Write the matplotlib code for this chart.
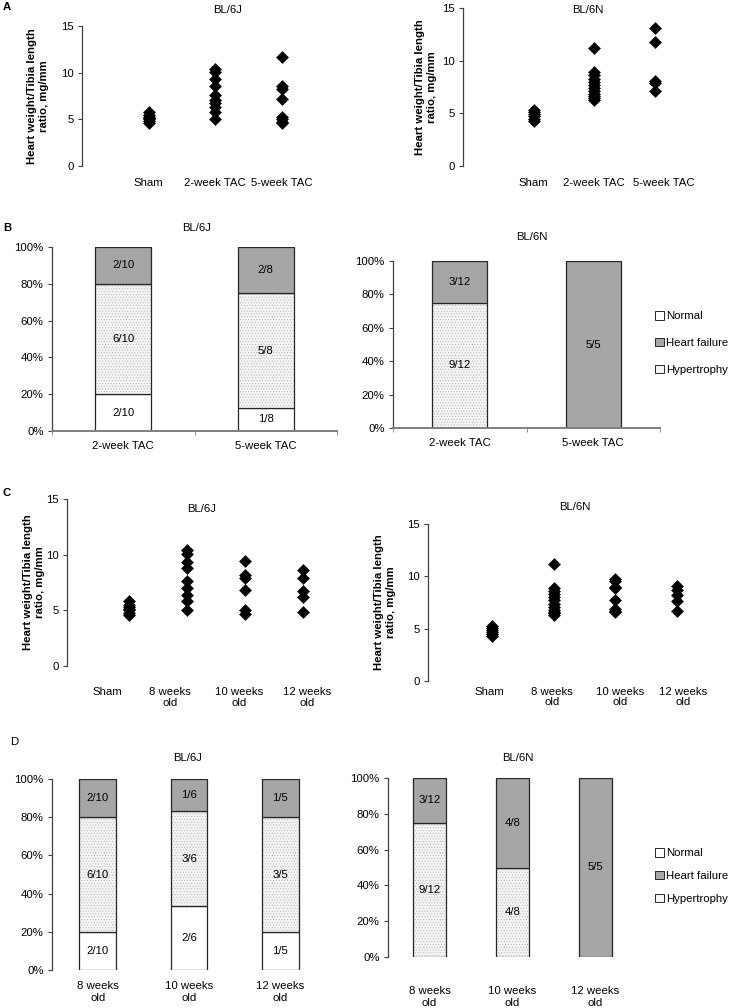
import matplotlib
matplotlib.use("Agg")
import matplotlib.pyplot as plt
import numpy as np
from matplotlib.patches import Patch

plt.rcParams['font.family'] = ['Liberation Sans', 'DejaVu Sans']
plt.rcParams['hatch.linewidth'] = 0.4

W, H = 731, 1008

# ---- data ----
tac_groups = ['Sham', '2-week TAC', '5-week TAC']
age_groups = ['Sham', '8 weeks\nold', '10 weeks\nold', '12 weeks\nold']

a_j = [[4.6, 4.8, 5.0, 5.1, 5.3, 5.5, 5.8],
       [10.4, 10.1, 9.3, 8.6, 7.6, 7.1, 6.7, 6.3, 5.8, 5.0],
       [11.7, 8.6, 8.3, 7.2, 5.2, 5.0, 4.7, 4.6]]
a_n = [[4.3, 4.5, 4.7, 4.9, 5.1, 5.3],
       [11.2, 8.9, 8.6, 8.3, 8.0, 7.7, 7.4, 7.1, 6.8, 6.6, 6.5, 6.3],
       [13.1, 11.8, 8.1, 7.9, 7.1]]
c_j = [[4.6, 4.8, 5.0, 5.1, 5.3, 5.5, 5.8],
       [10.4, 10.1, 9.3, 8.8, 7.6, 7.0, 6.4, 5.8, 5.0],
       [9.4, 8.2, 7.9, 6.8, 5.0, 4.7],
       [8.6, 7.9, 6.7, 6.2, 4.85]]
c_n = [[4.3, 4.5, 4.7, 4.9, 5.1, 5.3],
       [11.2, 8.9, 8.6, 8.3, 8.0, 7.7, 7.4, 7.1, 6.8, 6.6, 6.5, 6.3],
       [9.7, 9.6, 9.0, 8.9, 7.7, 6.9, 6.7, 6.6],
       [9.1, 8.7, 8.2, 7.6, 6.65]]

b_cats = ['2-week TAC', '5-week TAC']
b_j_normal = [2, 1]
b_j_hyper = [6, 5]
b_j_fail = [2, 2]
b_n_normal = [0, 0]
b_n_hyper = [9, 0]
b_n_fail = [3, 5]

d_cats = ['8 weeks\nold', '10 weeks\nold', '12 weeks\nold']
d_j_normal = [2, 2, 1]
d_j_hyper = [6, 3, 3]
d_j_fail = [2, 1, 1]
d_n_normal = [0, 0, 0]
d_n_hyper = [9, 4, 0]
d_n_fail = [3, 4, 5]

FS = 8.2
AXC = '#404040'
FAIL = '#a6a6a6'


def rect(x0, y0, x1, y1):
    return [x0 / W, 1 - y1 / H, (x1 - x0) / W, (y1 - y0) / H]


def ftext(x, y, s, **kw):
    fig.text(x / W, 1 - y / H, s, fontsize=FS, ha='center', va='center', **kw)


def scatter_panel(ax, groups, xlim, label_pos, pad, ylabel_x):
    for i, vals in enumerate(groups):
        ax.plot(np.full(len(vals), i + 1), vals, 'D', color='black',
                ms=6, mew=0.4, ls='none', clip_on=False)
    ax.set_xlim(*xlim)
    ax.set_ylim(0, 15)
    ax.set_yticks([0, 5, 10, 15])
    for s in ['top', 'right', 'bottom']:
        ax.spines[s].set_visible(False)
    ax.spines['left'].set_color(AXC)
    ax.spines['left'].set_linewidth(0.9)
    ax.tick_params(axis='y', direction='out', length=3, color=AXC,
                   labelsize=FS, pad=3)
    ax.tick_params(axis='x', length=0, labelsize=FS, pad=pad)
    ax.set_xticks(label_pos)
    ax.set_ylabel('Heart weight/Tibia length\nratio, mg/mm', fontsize=FS,
                  fontweight='bold', linespacing=1.2)
    ax.yaxis.set_label_coords(ylabel_x, 0.5)


def bar_panel(ax, cats, normal, hyper, fail, width, xaxis, pad):
    x = np.arange(len(cats))
    totals = np.array(normal) + np.array(hyper) + np.array(fail)
    layers = [(normal, 'white', None), (hyper, '#f4f4f4', '......'),
              (fail, FAIL, None)]
    bottom = np.zeros(len(cats))
    for counts, col, hatch in layers:
        frac = np.array(counts) / totals * 100
        ax.bar(x, frac, width, bottom=bottom, color=col, hatch=hatch,
               edgecolor='#b8b8b8', linewidth=0)
        ax.bar(x, frac, width, bottom=bottom, fill=False,
               edgecolor='#262626', linewidth=0.9)
        for xi, c, t, f, b in zip(x, counts, totals, frac, bottom):
            if c > 0:
                ax.text(xi, b + f / 2, f'{c}/{t}', ha='center', va='center',
                        fontsize=FS)
        bottom = bottom + frac
    ax.set_xlim(-0.5, len(cats) - 0.5)
    ax.set_ylim(0, 100)
    ax.set_yticks(np.arange(0, 101, 20))
    ax.set_yticklabels([f'{v}%' for v in range(0, 101, 20)])
    ax.set_xticks(x)
    ax.set_xticklabels(cats)
    for s in ['top', 'right']:
        ax.spines[s].set_visible(False)
    ax.spines['left'].set_color(AXC)
    ax.spines['left'].set_linewidth(0.9)
    ax.tick_params(axis='y', direction='out', length=3, color=AXC,
                   labelsize=FS, pad=3)
    if xaxis:
        ax.spines['bottom'].set_color('#7f7f7f')
        ax.spines['bottom'].set_linewidth(1.4)
        ax.set_xticks(np.arange(len(cats) + 1) - 0.5, minor=True)
        ax.tick_params(axis='x', which='minor', direction='out', length=3,
                       color='#7f7f7f')
    else:
        ax.spines['bottom'].set_visible(False)
    ax.tick_params(axis='x', which='major', length=0, labelsize=FS, pad=pad)


def legend(ax, x, y, spacing):
    handles = [Patch(facecolor='white', edgecolor='#262626', lw=0.7),
               Patch(facecolor=FAIL, edgecolor='#262626', lw=0.7),
               Patch(facecolor='#f4f4f4', edgecolor='#262626', lw=0.7)]
    ax.legend(handles, ['Normal', 'Heart failure', 'Hypertrophy'],
              loc='center left', bbox_to_anchor=(x / W, 1 - y / H),
              bbox_transform=fig.transFigure, frameon=False, fontsize=FS,
              handlelength=0.75, handleheight=0.75, handletextpad=0.25,
              labelspacing=spacing, borderpad=0, borderaxespad=0)


fig = plt.figure(figsize=(W / 100, H / 100), dpi=100)

# ---- A ----
ax = fig.add_axes(rect(82, 26, 348, 166))
scatter_panel(ax, a_j, (0, 4), [1, 2, 3], 9, -0.124)
ax.set_xticklabels(tac_groups)
ax = fig.add_axes(rect(463, 8, 703, 166))
scatter_panel(ax, a_n, (-0.17, 3.8), [1, 2, 3.15], 9, -0.11)
ax.set_xticklabels(tac_groups)

# ---- B ----
ax = fig.add_axes(rect(52, 247, 337, 431))
bar_panel(ax, b_cats, b_j_normal, b_j_hyper, b_j_fail, 0.39, True, 7)
ax = fig.add_axes(rect(393, 261, 660, 428))
bar_panel(ax, b_cats, b_n_normal, b_n_hyper, b_n_fail, 0.41, True, 7)
legend(ax, 655, 343, 1.45)

# ---- C ----
ax = fig.add_axes(rect(67, 499, 357, 666))
scatter_panel(ax, c_j, (-0.07, 4.93), [0.62, 1.71, 2.9, 4.07], 15, -0.076)
ax.set_xticklabels(age_groups, linespacing=1.1)
ax = fig.add_axes(rect(428, 524, 714, 681))
scatter_panel(ax, c_n, (-0.04, 4.6), [0.95, 1.97, 3.07, 4.1], 4, -0.112)
ax.set_xticklabels(age_groups, linespacing=1.1)

# ---- D ----
ax = fig.add_axes(rect(52, 779, 326, 970))
bar_panel(ax, d_cats, d_j_normal, d_j_hyper, d_j_fail, 0.40, False, 8)
ax = fig.add_axes(rect(388, 778, 637, 957))
bar_panel(ax, d_cats, d_n_normal, d_n_hyper, d_n_fail, 0.40, False, 21)
legend(ax, 655, 876, 1.1)

# ---- titles and panel letters ----
ftext(228, 10, 'BL/6J')
ftext(588, 10, 'BL/6N')
ftext(197, 228, 'BL/6J')
ftext(532, 237, 'BL/6N')
ftext(202, 509, 'BL/6J')
ftext(575, 507, 'BL/6N')
ftext(188, 758, 'BL/6J')
ftext(518, 758, 'BL/6N')
ftext(7, 7, 'A', fontweight='bold')
ftext(7, 228, 'B', fontweight='bold')
ftext(7, 493, 'C', fontweight='bold')
ftext(14, 742, 'D')

fig.savefig('out.png', dpi=100)
